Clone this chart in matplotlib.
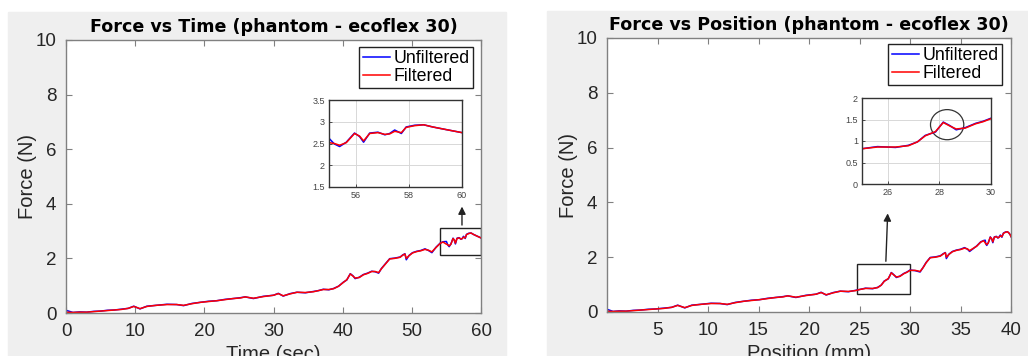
import matplotlib.pyplot as plt
from matplotlib.patches import Rectangle, Ellipse

# definitions/parameters
plt.rcParams['font.family'] = ['Liberation Sans', 'DejaVu Sans']

# samples of the test (time in sec, position in mm, force in N)
time_sec = [0, 1, 2, 3, 4, 5, 6, 7, 8, 9, 9.8, 10.7, 11.7, 13, 14.6, 16, 17, 18.2, 19.4, 20.6,
            21.8, 23, 24.2, 25.2, 25.9, 27.1, 28.5, 30, 30.7, 31.4, 32.4, 33.4, 34.6, 35.8, 36.5,
            37.2, 38, 38.7, 39.4, 40.1, 40.6, 41.1, 41.5, 41.8, 42.4, 43, 43.6, 44.2, 44.7, 45.2,
            45.6, 46.2, 46.8, 47.5, 48.3, 48.7, 49, 49.2, 49.6, 50.1, 50.7, 51.3, 51.9, 52.4, 52.9,
            53.5, 54.1, 54.5, 55, 55.2, 55.4, 55.65, 55.96, 56.15, 56.3, 56.53, 56.84, 57.1, 57.28,
            57.47, 57.72, 57.9, 58.22, 58.56, 58.9, 59.4, 60]
position_mm = [0, 0.6, 1.2, 1.9, 2.6, 3.3, 4.1, 4.8, 5.6, 6.4, 7.0, 7.7, 8.4, 9.3, 10.3, 11.2, 11.9,
               12.7, 13.5, 14.3, 15.1, 15.9, 16.7, 17.4, 17.9, 18.7, 19.7, 20.7, 21.2, 21.7, 22.4,
               23.1, 23.9, 24.6, 25.0, 25.6, 26.3, 26.8, 27.15, 27.45, 27.85, 28.15, 28.4, 28.65,
               29.0, 29.4, 29.7, 30.0, 30.5, 31.0, 31.3, 31.6, 32.0, 32.5, 33.0, 33.3, 33.5, 33.6,
               33.85, 34.2, 34.6, 35.0, 35.4, 35.7, 35.9, 36.6, 37.0, 37.3, 37.45, 37.5, 37.6, 37.75,
               37.95, 38.1, 38.2, 38.35, 38.55, 38.7, 38.8, 38.95, 39.1, 39.25, 39.45, 39.65, 39.8,
               39.92, 40.0]
force_filtered = [0.03, 0.02, 0.03, 0.03, 0.05, 0.07, 0.09, 0.11, 0.13, 0.17, 0.24, 0.16, 0.24, 0.28,
                  0.31, 0.31, 0.28, 0.34, 0.39, 0.42, 0.45, 0.49, 0.53, 0.55, 0.59, 0.54, 0.60, 0.65,
                  0.71, 0.63, 0.70, 0.76, 0.75, 0.78, 0.82, 0.86, 0.86, 0.89, 0.98, 1.12, 1.22, 1.43,
                  1.35, 1.28, 1.30, 1.40, 1.45, 1.52, 1.52, 1.48, 1.62, 1.80, 1.98, 2.00, 2.04, 2.12,
                  2.16, 2.00, 2.10, 2.20, 2.25, 2.28, 2.33, 2.30, 2.24, 2.40, 2.55, 2.60, 2.52, 2.50,
                  2.46, 2.52, 2.73, 2.67, 2.56, 2.73, 2.75, 2.71, 2.72, 2.78, 2.75, 2.87, 2.91, 2.93,
                  2.88, 2.82, 2.75]
force_unfiltered = [0.10, 0.02, 0.04, 0.03, 0.06, 0.07, 0.10, 0.11, 0.14, 0.17, 0.25, 0.15, 0.25, 0.28,
                    0.32, 0.31, 0.27, 0.35, 0.39, 0.43, 0.45, 0.50, 0.53, 0.56, 0.59, 0.53, 0.61, 0.65,
                    0.72, 0.62, 0.71, 0.76, 0.74, 0.79, 0.82, 0.87, 0.85, 0.90, 0.98, 1.13, 1.21, 1.44,
                    1.36, 1.26, 1.31, 1.41, 1.46, 1.53, 1.51, 1.46, 1.63, 1.81, 1.99, 2.01, 2.05, 2.13,
                    2.17, 1.95, 2.11, 2.21, 2.26, 2.29, 2.35, 2.29, 2.21, 2.41, 2.56, 2.61, 2.62, 2.49,
                    2.43, 2.53, 2.74, 2.66, 2.53, 2.74, 2.76, 2.70, 2.73, 2.81, 2.73, 2.88, 2.92, 2.93,
                    2.88, 2.82, 2.75]

BG_GRAY = '#efefef'
AXIS_GRAY = '#808080'
TEXT_COLOR = '#262626'

fig = plt.figure(figsize=(10.28, 3.56), dpi=100, facecolor='white')

# gray figure backgrounds (two MATLAB windows side by side)
fig.patches.append(Rectangle((8 / 1028, 0.0), 498 / 1028, 344 / 356,
                             transform=fig.transFigure, color=BG_GRAY, zorder=-10))
fig.patches.append(Rectangle((547 / 1028, 0.0), 481 / 1028, 345 / 356,
                             transform=fig.transFigure, color=BG_GRAY, zorder=-10))


def style_main(ax):
    ax.set_facecolor('white')
    for spine in ax.spines.values():
        spine.set_color(AXIS_GRAY)
        spine.set_linewidth(1.0)
    ax.tick_params(direction='in', top=True, right=True, length=4, width=0.8,
                   color=AXIS_GRAY, labelcolor=TEXT_COLOR, labelsize=13.5, pad=7)
    ax.set_ylim(0, 10)
    ax.set_yticks([0, 2, 4, 6, 8, 10])
    ax.set_ylabel('Force (N)', fontsize=14.5, color=TEXT_COLOR, labelpad=-1)


def style_inset(ax):
    ax.set_facecolor('white')
    for spine in ax.spines.values():
        spine.set_color('#333333')
        spine.set_linewidth(1.0)
    ax.tick_params(direction='in', length=2, width=0.6, color='#333333',
                   labelcolor='#444444', labelsize=6.5, pad=3)
    ax.grid(True, color='#d8d8d8', linewidth=0.7)
    ax.set_axisbelow(True)


def add_legend(ax, anchor):
    ax.legend(loc='upper right', bbox_to_anchor=anchor, borderaxespad=0, fontsize=12.8,
              fancybox=False, framealpha=1, edgecolor='#222222', handlelength=1.55,
              handletextpad=0.2, borderpad=0.18, labelspacing=0.05)


# Force vs Time
ax1 = fig.add_axes([66 / 1028, 43 / 356, 415 / 1028, 273 / 356])
ax1.plot(time_sec, force_unfiltered, color='blue', linewidth=1.1, label='Unfiltered')
ax1.plot(time_sec, force_filtered, color='red', linewidth=1.1, label='Filtered')
style_main(ax1)
ax1.set_xlim(0, 60)
ax1.set_xticks([0, 10, 20, 30, 40, 50, 60])
ax1.set_xlabel('Time (sec)', fontsize=14.5, color=TEXT_COLOR, labelpad=4)
ax1.set_title('Force vs Time (phantom - ecoflex 30)', fontsize=12.6, fontweight='bold',
              family='DejaVu Sans', pad=6)
add_legend(ax1, (0.981, 0.974))
ax1.add_patch(Rectangle((54, 2.12), 6, 1.0, fill=False, edgecolor='#222222', linewidth=1.0))
ax1.annotate('', xy=(57.25, 4.0), xytext=(57.25, 3.12),
             arrowprops=dict(arrowstyle='-|>', color='#222222', linewidth=1.0, mutation_scale=11))

ins1 = fig.add_axes([329 / 1028, 169 / 356, 133 / 1028, 87 / 356])
ins1.plot(time_sec, force_unfiltered, color='blue', linewidth=1.1)
ins1.plot(time_sec, force_filtered, color='red', linewidth=1.1)
style_inset(ins1)
ins1.set_xlim(55, 60)
ins1.set_ylim(1.5, 3.5)
ins1.set_xticks([56, 58, 60])
ins1.set_yticks([1.5, 2, 2.5, 3, 3.5])
ins1.set_yticklabels(['1.5', '2', '2.5', '3', '3.5'])

# Force vs Position
ax2 = fig.add_axes([607 / 1028, 44 / 356, 404 / 1028, 274 / 356])
ax2.plot(position_mm, force_unfiltered, color='blue', linewidth=1.1, label='Unfiltered')
ax2.plot(position_mm, force_filtered, color='red', linewidth=1.1, label='Filtered')
style_main(ax2)
ax2.set_xlim(0, 40)
ax2.set_xticks([5, 10, 15, 20, 25, 30, 35, 40])
ax2.set_xlabel('Position (mm)', fontsize=14.5, color=TEXT_COLOR, labelpad=4)
ax2.set_title('Force vs Position (phantom - ecoflex 30)', fontsize=12.6, fontweight='bold',
              family='DejaVu Sans', pad=6)
add_legend(ax2, (0.978, 0.978))
ax2.add_patch(Rectangle((24.8, 0.66), 5.2, 1.09, fill=False, edgecolor='#222222', linewidth=1.0))
ax2.annotate('', xy=(27.8, 3.7), xytext=(27.6, 1.75),
             arrowprops=dict(arrowstyle='-|>', color='#222222', linewidth=1.0, mutation_scale=11))

ins2 = fig.add_axes([862 / 1028, 172 / 356, 129 / 1028, 86 / 356])
ins2.plot(position_mm, force_unfiltered, color='blue', linewidth=1.1)
ins2.plot(position_mm, force_filtered, color='red', linewidth=1.1)
style_inset(ins2)
ins2.set_xlim(25, 30)
ins2.set_ylim(0, 2)
ins2.set_xticks([26, 28, 30])
ins2.set_yticks([0, 0.5, 1, 1.5, 2])
ins2.set_yticklabels(['0', '0.5', '1', '1.5', '2'])
ins2.add_patch(Ellipse((28.3, 1.38), 1.29, 0.7, fill=False, edgecolor='#333333', linewidth=0.9))

plt.savefig('out.png', dpi=100, facecolor='white')
